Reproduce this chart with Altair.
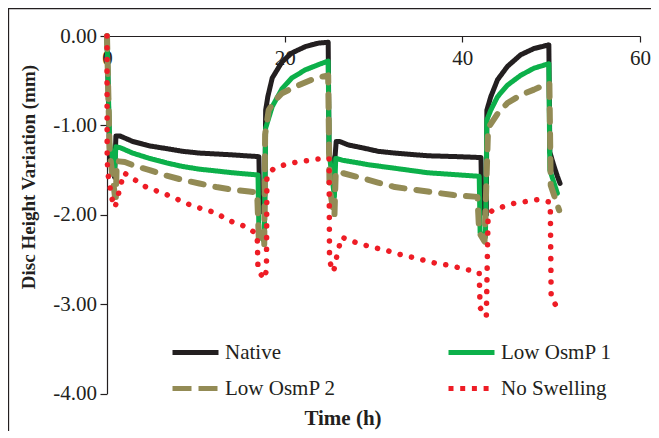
import altair as alt
import pandas as pd

# ---------------- data ----------------
series = ["Native", "Low OsmP 1", "Low OsmP 2", "No Swelling"]
colors = ["#231f20", "#0cb04a", "#938b55", "#ee1c25"]
line_dashes = [[1, 0], [1, 0], [13, 12], [0.1, 11.6]]
legend_dashes = [[1, 0], [1, 0], [19, 7], [5, 6.7]]
widths = [5, 5, 6, 5.5]

native_t = [0, 0.3, 0.85, 1.0, 1.5, 2.9, 4.8, 6.7, 8.5, 10.4, 12.3, 14.1, 17.1, 17.2, 17.75,
            17.86, 18.1, 18.6, 19.7, 20.8, 22.3, 23.8, 24.9, 25.0, 25.5, 25.8, 26.2, 27.2, 28.7,
            30.5, 32.4, 36.1, 39.5, 42.1, 42.2, 42.7, 42.76, 43.2, 43.96, 45.08, 46.57, 48.07,
            49.74, 49.85, 50.3, 50.7, 51.0]
native_v = [0, -1.35, -1.58, -1.12, -1.12, -1.18, -1.23, -1.26, -1.29, -1.31, -1.32, -1.33, -1.35,
            -1.95, -1.98, -0.83, -0.68, -0.47, -0.29, -0.19, -0.12, -0.08, -0.07, -1.3, -1.58,
            -1.18, -1.18, -1.22, -1.25, -1.29, -1.31, -1.34, -1.35, -1.36, -1.97, -2.0, -0.83,
            -0.68, -0.49, -0.34, -0.21, -0.14, -0.1, -1.3, -1.45, -1.57, -1.65]

osmp1_t = [0, 0.3, 0.85, 1.0, 1.5, 2.9, 4.8, 6.7, 8.5, 10.4, 12.3, 14.1, 17.0, 17.1, 17.7, 17.86,
           18.6, 19.7, 20.8, 22.3, 23.8, 24.9, 25.0, 25.6, 25.75, 26.5, 28.3, 29.4, 32.4, 36.1,
           41.9, 42.0, 42.6, 42.76, 43.2, 43.96, 45.08, 46.57, 48.07, 49.74, 49.85, 50.7]
osmp1_v = [0, -1.2, -1.5, -1.24, -1.25, -1.31, -1.37, -1.42, -1.46, -1.49, -1.51, -1.53, -1.555,
           -2.2, -2.3, -1.03, -0.79, -0.59, -0.47, -0.38, -0.32, -0.28, -1.3, -1.8, -1.37, -1.39,
           -1.42, -1.44, -1.48, -1.53, -1.57, -2.2, -2.25, -0.94, -0.83, -0.68, -0.55, -0.44,
           -0.36, -0.31, -1.5, -1.76]

osmp2_t = [0, 0.3, 0.9, 1.0, 1.1, 2.0, 3.3, 4.8, 6.6, 8.5, 10.4, 12.3, 14.1, 16.0, 16.9, 17.1,
           17.7, 17.8, 18.2, 18.9, 19.7, 21.6, 23.5, 24.9, 25.05, 25.6, 25.75, 26.4, 28.7, 30.5,
           32.4, 36.1, 39.0, 41.7, 41.9, 42.5, 42.9, 43.96, 45.08, 46.57, 48.07, 49.2, 49.8,
           49.95, 50.9]
osmp2_v = [0, -1.3, -1.8, -1.8, -1.4, -1.41, -1.46, -1.5, -1.56, -1.61, -1.65, -1.69, -1.72,
           -1.74, -1.75, -2.3, -2.35, -1.1, -0.83, -0.72, -0.64, -0.55, -0.47, -0.44, -1.7,
           -2.02, -1.52, -1.53, -1.59, -1.64, -1.69, -1.74, -1.78, -1.8, -2.2, -2.3, -1.03,
           -0.87, -0.75, -0.66, -0.6, -0.55, -0.53, -1.67, -1.95]

noswell_t = [0, 0.02, 0.15, 0.34, 0.52, 0.9, 1.9, 4.4, 6.6, 9.6, 12.3, 13.6, 15.8, 16.9, 17.0,
             17.7, 17.95, 18.0, 18.7, 20.0, 21.4, 22.2, 23.4, 24.6, 25.0, 25.05, 25.5, 25.9,
             26.4, 27.7, 29.0, 30.2, 31.5, 32.8, 34.5, 35.7, 36.9, 38.2, 39.5, 40.8, 41.9, 42.0,
             42.7, 42.9, 43.4, 44.6, 45.9, 47.3, 48.5, 49.9, 50.0, 50.7]
noswell_v = [0, -1.4, -1.57, -1.69, -1.81, -1.92, -1.53, -1.69, -1.77, -1.9, -1.98, -2.06,
             -2.14, -2.22, -2.62, -2.72, -2.62, -1.57, -1.49, -1.44, -1.41, -1.4, -1.38, -1.37,
             -1.37, -2.52, -2.64, -2.45, -2.25, -2.3, -2.34, -2.37, -2.4, -2.44, -2.48, -2.51,
             -2.54, -2.56, -2.59, -2.62, -2.65, -3.04, -3.14, -2.0, -1.95, -1.91, -1.87, -1.85,
             -1.83, -1.86, -2.93, -3.04]

y_ticks = [0, -1, -2, -3, -4]
x_ticks = [0, 20, 40, 60]

all_t = [native_t, osmp1_t, osmp2_t, noswell_t]
all_v = [native_v, osmp1_v, osmp2_v, noswell_v]

FONT = "Liberation Serif"
INK = "#231f20"
W, H = 533, 357.5

legend = alt.Legend(
    title=None, orient="none", legendX=63, legendY=306, columns=2, direction="horizontal",
    columnPadding=110, rowPadding=14, clipHeight=21, padding=0,
    symbolType="stroke", symbolSize=2116, symbolStrokeWidth=5,
    labelFont=FONT, labelFontSize=21, labelColor=INK, labelOffset=4,
)

x_enc = alt.X("t:Q", scale=alt.Scale(domain=[0, 60], nice=False),
              axis=alt.Axis(orient="bottom", offset=-H, values=x_ticks, grid=False,
                            title="Time (h)", titleFont=FONT, titleFontSize=21,
                            titleFontWeight="bold", titleColor=INK, titleX=235.5, titleY=382,
                            titleBaseline="middle", titleAlign="center",
                            labelFont=FONT, labelFontSize=21, labelColor=INK, labelPadding=5,
                            labelFlush=False, labelOverlap=False,
                            tickSize=6, tickColor=INK, tickWidth=1.2,
                            domainColor=INK, domainWidth=1.2))
y_enc = alt.Y("v:Q", scale=alt.Scale(domain=[-4, 0], nice=False),
              axis=alt.Axis(orient="left", values=y_ticks, grid=False,
                            labelExpr="(datum.value < 0 ? '-' : '') + format(abs(datum.value), '.2f')",
                            title="Disc Height Variation (mm)", titleFont=FONT, titleFontSize=19,
                            titleFontWeight="bold", titleColor=INK, titleX=-79, titleY=140.5,
                            titleBaseline="middle", titleAlign="center", titleAngle=270,
                            labelFont=FONT, labelFontSize=21, labelColor=INK, labelPadding=3.5,
                            tickSize=7, tickColor=INK, tickWidth=1.2,
                            domainColor=INK, domainWidth=1.2))
color_enc = alt.Color("series:N", scale=alt.Scale(domain=series, range=colors), legend=legend)
dash_enc = alt.StrokeDash("series:N", scale=alt.Scale(domain=series, range=legend_dashes),
                          legend=legend)

frames = []
for name, ts, vs in zip(series, all_t, all_v):
    frames.append(pd.DataFrame({"t": ts, "v": vs, "series": name,
                                "idx": list(range(len(ts)))}))

# legend-only layer (draws nothing; carries the dash scale for the legend symbols)
legend_layer = (
    alt.Chart(frames[0]).transform_filter("datum.idx < 0")
    .mark_line(strokeWidth=5)
    .encode(x=x_enc, y=y_enc, color=color_enc, strokeDash=dash_enc)
)

layers = [legend_layer]
for df, w, d in zip(frames, widths, line_dashes):
    layers.append(
        alt.Chart(df).mark_line(strokeWidth=w, strokeCap="round", strokeJoin="round",
                                strokeDash=d)
        .encode(x=x_enc, y=y_enc, color=color_enc, order=alt.Order("idx:Q"))
    )

frame = alt.Chart(alt.Data(values=[{"a": 1}])).mark_rect(
    fillOpacity=0, stroke=INK, strokeWidth=1.3
).encode(x=alt.value(-98.5), x2=alt.value(700), y=alt.value(-27.5), y2=alt.value(600))

chart = (
    alt.layer(*layers, frame)
    .properties(
        width=W, height=H,
        autosize=alt.AutoSizeParams(type="none"),
        padding={"left": 99, "top": 28, "right": 11, "bottom": 37},
    )
    .configure(background="white", font=FONT)
    .configure_view(stroke=None)
    .configure_legend(labelFont=FONT, labelFontSize=21, labelColor=INK)
)

chart.save("out.html", embed_options={"renderer": "svg", "actions": False})
